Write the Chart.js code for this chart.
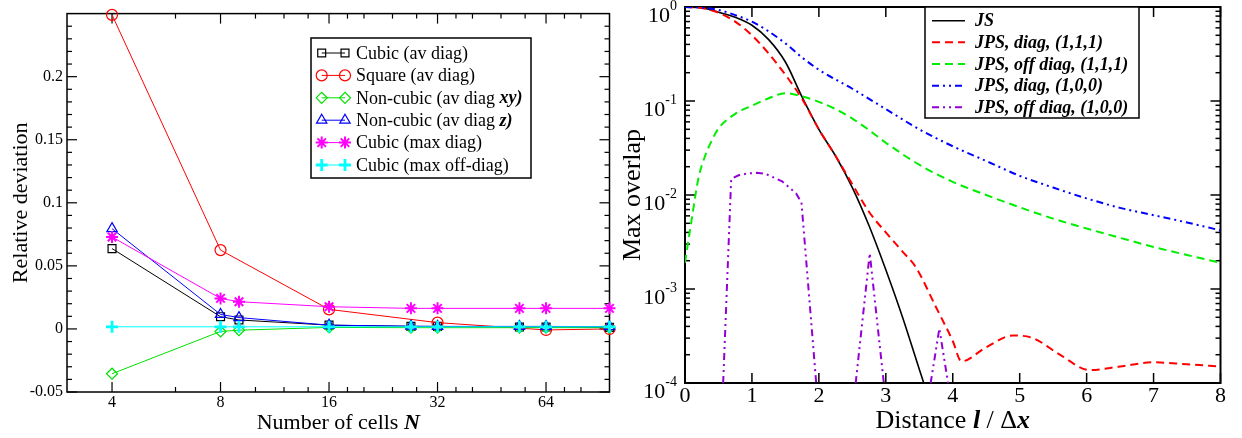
<!DOCTYPE html>
<html><head><meta charset="utf-8">
<script src="https://cdn.jsdelivr.net/npm/chart.js@4.4.1/dist/chart.umd.min.js"></script>
<style>
html,body{margin:0;padding:0;background:#fff;}
#wrap{position:relative;width:1242px;height:438px;}
.panel{position:absolute;top:0;height:438px;}
#pl{left:0;width:620px}
#pr{left:620px;width:622px}
</style></head><body>
<div id="wrap"><div class="panel" id="pl"><canvas id="cl"></canvas></div><div class="panel" id="pr"><canvas id="cr"></canvas></div></div>
<script>
const SERIF='"Liberation Serif","Times New Roman",serif';

// left panel: relative deviation vs number of cells N
const cellsN=[4,8,9,16,27,32,54,64,96];
const squareN=[4,8,16,32,64,96];
const cubicAv=[0.0637,0.0097,0.0071,0.003,0.002,0.002,0.0015,0.0015,0.0012];
const squareAv=[0.249,0.0625,0.0155,0.005,-0.0008,0.0];
const nonCubicXY=[-0.0355,-0.002,-0.001,0.0012,0.001,0.001,0.001,0.001,0.001];
const nonCubicZ=[0.0795,0.0115,0.009,0.003,0.0022,0.002,0.002,0.002,0.0018];
const cubicMaxDiag=[0.0729,0.0242,0.0216,0.0176,0.0163,0.0163,0.0163,0.0163,0.0163];
const cubicMaxOff=[0.0017,0.0017,0.0017,0.0017,0.0017,0.0017,0.0017,0.0017,0.0017];
const xTicksL=[4,8,16,32,64];
const xMinorL=[6,10,12,14,18,20,24,28,36,40,48,56,72,80];
const yTicksL=[-0.05,0,0.05,0.1,0.15,0.2];
const yLabelsL=['-0.05','0','0.05','0.1','0.15','0.2'];
const legendL=['Cubic (av diag)','Square (av diag)','Non-cubic (av diag *xy)*','Non-cubic (av diag *z)*','Cubic (max diag)','Cubic (max off-diag)'];

// right panel: max overlap vs distance
const jsX=[0,0.25,0.5,0.75,1,1.25,1.5,1.75,2,2.25,2.5,2.75,3,3.25,3.5,3.75];
const jsY=[1,0.98,0.88,0.78,0.64,0.45,0.26,0.11,0.05,0.026,0.012,0.0047,0.0016,0.0005,0.00014,0.00004];
const diag111X=[0,0.25,0.5,0.75,1,1.25,1.5,1.75,2,2.25,2.5,2.75,3,3.25,3.45,3.75,4,4.13,4.5,4.9,5.2,5.6,6.05,6.5,7,7.5,8];
const diag111Y=[1,0.975,0.87,0.70,0.50,0.32,0.19,0.105,0.05,0.026,0.013,0.0066,0.0040,0.0025,0.0017,0.00064,0.00028,0.00017,0.00024,0.00032,0.00030,0.00020,0.000137,0.00015,0.000166,0.000158,0.00015];
const off111X=[0,0.1,0.2,0.3,0.4,0.5,0.75,1,1.25,1.5,1.75,2,2.25,2.5,2.75,3,3.5,4,4.5,5,5.5,6,6.5,7,7.5,8];
const off111Y=[0.0019,0.0055,0.015,0.026,0.038,0.051,0.073,0.089,0.107,0.121,0.112,0.098,0.082,0.065,0.049,0.036,0.021,0.0138,0.0100,0.0074,0.0056,0.0044,0.0035,0.0028,0.0023,0.0019];
const diag100X=[0,0.25,0.5,0.75,1,1.25,1.5,1.75,2,2.5,3,3.5,4,4.5,5,5.5,6,6.5,7,7.5,8];
const diag100Y=[1,0.985,0.93,0.82,0.70,0.55,0.41,0.29,0.215,0.135,0.082,0.05,0.033,0.023,0.016,0.012,0.0092,0.0073,0.0061,0.0051,0.0042];
const off100X=[0.57,0.69,0.8,0.95,1.07,1.2,1.33,1.45,1.57,1.66,1.74,1.96,2.2,2.55,2.76,2.97,3.3,3.67,3.8,3.93];
const off100Y=[0.0001,0.0148,0.0162,0.0170,0.0172,0.0168,0.0153,0.0140,0.0118,0.0104,0.0083,0.0001,null,0.0001,0.0024,0.0001,null,0.0001,0.00038,0.0001];
const xTicksR=[0,1,2,3,4,5,6,7,8];
const yExpR=[0,-1,-2,-3,-4];
const legendR=['*JS*','*JPS, diag, (1,1,1)*','*JPS, off diag, (1,1,1)*','*JPS, diag, (1,0,0)*','*JPS, off diag, (1,0,0)*'];

const yMinorL=[];for(let k=-4;k<=24;k++){if(k%5)yMinorL.push(k/100);}
const yMinorR=[];yExpR.slice(0,4).forEach(e=>{for(let k=2;k<=9;k++)yMinorR.push(k*Math.pow(10,e-1));});

const pts=(xs,ys)=>xs.map((x,i)=>({x,y:ys[i]}));
const fnt=(b,s)=>(b?'italic bold ':'')+s+'px '+SERIF;

function rich(ctx,str,x,y,size,center){
  const parts=str.split('*');
  let w=0;parts.forEach((p,i)=>{ctx.font=fnt(i%2,size);w+=ctx.measureText(p).width;});
  let cx=center?x-w/2:x;
  parts.forEach((p,i)=>{ctx.font=fnt(i%2,size);ctx.fillText(p,cx,y);cx+=ctx.measureText(p).width;});
}

const tickFrame={
  id:'tickFrame',
  beforeDatasetsDraw(chart,args,o){
    const {ctx,chartArea:a,scales:{x,y}}=chart;
    ctx.save();ctx.strokeStyle='#000';ctx.lineWidth=o.tw;
    const seg=(x1,y1,x2,y2)=>{ctx.beginPath();ctx.moveTo(x1,y1);ctx.lineTo(x2,y2);ctx.stroke();};
    const xt=(vals,len)=>vals.forEach(v=>{const p=x.getPixelForValue(v);seg(p,a.bottom,p,a.bottom-len);seg(p,a.top,p,a.top+len);});
    const yt=(vals,len)=>vals.forEach(v=>{const p=y.getPixelForValue(v);seg(a.left,p,a.left+len,p);seg(a.right,p,a.right-len,p);});
    xt(o.xMajor,o.major);xt(o.xMinor,o.minor);yt(o.yMajor,o.major);yt(o.yMinor,o.minor);
    ctx.lineWidth=o.fw;ctx.strokeRect(a.left,a.top,a.right-a.left,a.bottom-a.top);
    ctx.restore();
  }
};

const textLayer={
  id:'textLayer',
  afterDraw(chart,args,o){
    const {ctx,chartArea:a}=chart;
    ctx.save();ctx.fillStyle='#000';ctx.textBaseline='alphabetic';
    rich(ctx,o.xTitle,(a.left+a.right)/2,o.xTitleY,o.size,true);
    if(o.exps){
      const y=chart.scales.y;
      o.exps.forEach(e=>{
        const p=y.getPixelForValue(Math.pow(10,e));
        const s=String(e);
        ctx.font=fnt(0,14);const w1=ctx.measureText(s).width;
        const xr=a.left-8;
        ctx.fillText(s,xr-w1,p+3);
        ctx.font=fnt(0,22);const w0=ctx.measureText('10').width;
        ctx.fillText('10',xr-w1-w0,p+15);
      });
    }
    ctx.translate(o.yTitleX,(a.top+a.bottom)/2);ctx.rotate(-Math.PI/2);
    rich(ctx,o.yTitle,0,0,o.size,true);
    ctx.restore();
  }
};

const boxLegend={
  id:'boxLegend',
  afterDraw(chart,args,o){
    const ctx=chart.ctx;
    ctx.save();
    ctx.fillStyle='#fff';ctx.fillRect(o.x,o.y,o.w,o.h);
    ctx.strokeStyle='#000';ctx.lineWidth=1.5;ctx.strokeRect(o.x,o.y,o.w,o.h);
    o.labels.forEach((lab,i)=>{
      const ds=chart.data.datasets[i];
      const y=o.y+o.first+i*o.step;
      ctx.strokeStyle=ds.borderColor;ctx.lineWidth=ds.borderWidth;
      ctx.setLineDash(ds.borderDash||[]);
      ctx.beginPath();ctx.moveTo(o.x+o.l0,y);ctx.lineTo(o.x+o.l1,y);ctx.stroke();
      ctx.setLineDash([]);
      if(ds.pointRadius){
        ctx.fillStyle='rgba(0,0,0,0)';ctx.lineWidth=ds.pointBorderWidth;
        [o.l0,o.l1].forEach(px=>Chart.helpers.drawPoint(ctx,{pointStyle:ds.pointStyle,radius:ds.pointRadius,borderWidth:ds.pointBorderWidth,rotation:0},o.x+px,y));
      }
      ctx.fillStyle='#000';ctx.textBaseline='middle';
      rich(ctx,lab,o.x+o.tx,y+1,o.size,false);
    });
    ctx.restore();
  }
};

function sym(label,xs,ys,color,style,r,bw,order){
  return {label,data:pts(xs,ys),borderColor:color,borderWidth:1,pointStyle:style,pointRadius:r,pointHoverRadius:r,
    pointBorderWidth:bw,pointBackgroundColor:'rgba(0,0,0,0)',pointBorderColor:color,clip:false,order,tension:0};
}

new Chart(document.getElementById('cl'),{
  type:'line',
  data:{datasets:[
    sym('Cubic (av diag)',cellsN,cubicAv,'#000000','rect',5.6,1.2,5),
    sym('Square (av diag)',squareN,squareAv,'#ff0000','circle',5.5,1.2,4),
    sym('Non-cubic (av diag xy)',cellsN,nonCubicXY,'#00e000','rectRot',5.5,1.2,3),
    sym('Non-cubic (av diag z)',cellsN,nonCubicZ,'#0000ff','triangle',6,1.2,2),
    sym('Cubic (max diag)',cellsN,cubicMaxDiag,'#ff00ff','star',6,2,1),
    sym('Cubic (max off-diag)',cellsN,cubicMaxOff,'#00ffff','cross',6,2.8,0)
  ]},
  options:{
    responsive:true,maintainAspectRatio:false,animation:false,
    layout:{padding:{left:0,top:12,right:10.5,bottom:0}},
    plugins:{legend:{display:false},tooltip:{enabled:false},
      tickFrame:{xMajor:xTicksL,xMinor:xMinorL,yMajor:yTicksL,yMinor:yMinorL,major:10,minor:5,tw:1.2,fw:1.5},
      textLayer:{xTitle:'Number of cells *N*',xTitleY:429,yTitle:'Relative deviation',yTitleX:27,size:22},
      boxLegend:{labels:legendL,x:311,y:38,w:220,h:140,first:15,step:22.4,l0:10.7,l1:34,tx:45,size:18}
    },
    scales:{
      x:{type:'logarithmic',min:3,max:96,
        afterBuildTicks:s=>{s.ticks=xTicksL.map(v=>({value:v}));},
        afterFit:s=>{s.height=46;},
        grid:{display:false,drawTicks:false},border:{display:false},
        ticks:{autoSkip:false,maxRotation:0,padding:1,color:'#000',font:{family:SERIF,size:16},callback:v=>String(v)}},
      y:{min:-0.05,max:0.25,
        afterBuildTicks:s=>{s.ticks=yTicksL.map(v=>({value:v}));},
        afterFit:s=>{s.width=67;},
        grid:{display:false,drawTicks:false},border:{display:false},
        ticks:{padding:4,color:'#000',font:{family:SERIF,size:16},callback:(v,i)=>yLabelsL[i]}}
    }
  },
  plugins:[tickFrame,boxLegend,textLayer]
});

function curve(label,xs,ys,color,dash,w,order,mono){
  return {label,data:pts(xs,ys),borderColor:color,borderWidth:w,borderDash:dash,pointRadius:0,pointHoverRadius:0,
    cubicInterpolationMode:mono?'monotone':'default',tension:0,spanGaps:false,order};
}

new Chart(document.getElementById('cr'),{
  type:'line',
  data:{datasets:[
    curve('JS',jsX,jsY,'#000000',[],1.6,4,true),
    curve('JPS, diag, (1,1,1)',diag111X,diag111Y,'#ff0000',[8,5],2,3,true),
    curve('JPS, off diag, (1,1,1)',off111X,off111Y,'#00ee00',[8,5],2,2,true),
    curve('JPS, diag, (1,0,0)',diag100X,diag100Y,'#0000ff',[7,4,2,4,2,4],2,1,true),
    curve('JPS, off diag, (1,0,0)',off100X,off100Y,'#9400d3',[7,4,2,4,2,4],2,0,false)
  ]},
  options:{
    responsive:true,maintainAspectRatio:false,animation:false,
    layout:{padding:{left:0,top:7,right:21.5,bottom:0}},
    plugins:{legend:{display:false},tooltip:{enabled:false},
      tickFrame:{xMajor:xTicksR,xMinor:[],yMajor:yExpR.map(e=>Math.pow(10,e)),yMinor:yMinorR,major:10,minor:5,tw:1.5,fw:2},
      textLayer:{xTitle:'Distance *l* / Δ*x*',xTitleY:428,yTitle:'Max overlap',yTitleX:20,size:26,exps:yExpR},
      boxLegend:{labels:legendR,x:305,y:7,w:214,h:111,first:13.7,step:21.65,l0:7,l1:40,tx:50,size:18}
    },
    scales:{
      x:{type:'linear',min:0,max:8,
        afterBuildTicks:s=>{s.ticks=xTicksR.map(v=>({value:v}));},
        afterFit:s=>{s.height=55;},
        grid:{display:false,drawTicks:false},border:{display:false},
        ticks:{autoSkip:false,maxRotation:0,padding:0,color:'#000',font:{family:SERIF,size:22},callback:v=>String(v)}},
      y:{type:'logarithmic',min:0.0001,max:1,
        afterFit:s=>{s.width=65;},
        grid:{display:false,drawTicks:false},border:{display:false},
        ticks:{display:false}}
    }
  },
  plugins:[tickFrame,boxLegend,textLayer]
});
</script>
</body></html>
